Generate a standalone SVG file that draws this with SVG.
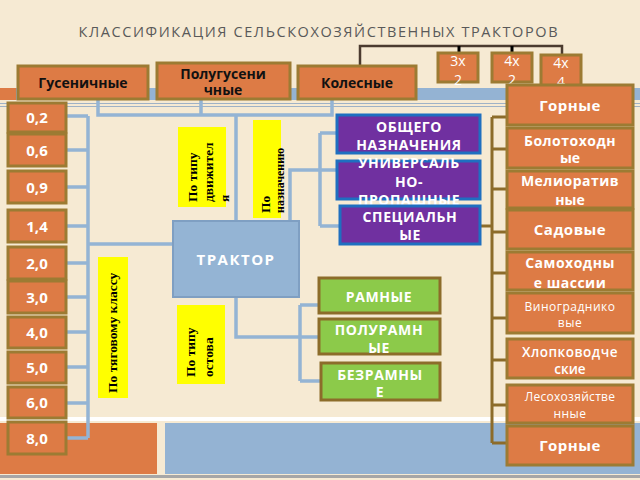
<svg xmlns="http://www.w3.org/2000/svg" width="640" height="480" viewBox="0 0 640 480">
<style>
.o{fill:#dd7b45;stroke:#9c7b33;stroke-width:3}
.p{fill:#7030a0;stroke:#1f6fc0;stroke-width:3}
.g{fill:#8cca4a;stroke:#8c6c2a;stroke-width:3}
.y{fill:#ffff00}
.cb{fill:none;stroke:#94b4d4;stroke-width:3.5}
.cr{fill:none;stroke:#8c6c2a;stroke-width:3}
.w{fill:#ffffff;font-family:"Open Sans","DejaVu Sans",sans-serif;font-weight:700;text-anchor:middle}
.k{fill:#111111;font-family:"Open Sans","DejaVu Sans",sans-serif;font-weight:700;text-anchor:middle;font-size:14px}
.n{font-size:15px}
.s{font-size:14px;letter-spacing:0.6px}
.r{font-weight:400}
.v{fill:#000;font-family:"Liberation Serif","Times New Roman",serif;font-weight:700;font-size:13.5px}
</style>
<rect x="0" y="0" width="640" height="480" fill="#f6ead3"/>
<!-- background bands -->
<rect x="0" y="88" width="16" height="12" fill="#dd7b45"/>
<rect x="16" y="88" width="624" height="12" fill="#94b3d3"/>
<line x1="0" y1="103.5" x2="640" y2="103.5" stroke="#9fb2c6" stroke-width="1"/>
<line x1="0" y1="106.5" x2="640" y2="106.5" stroke="#9fb2c6" stroke-width="1"/>
<rect x="0" y="417" width="640" height="4" fill="#ffffff"/>
<rect x="0" y="423" width="157" height="51" fill="#dd7b45"/>
<rect x="165" y="423" width="475" height="51" fill="#94b3d3"/>
<rect x="0" y="475" width="640" height="3" fill="#a6a6a6"/>

<text x="318" y="37" textLength="479" lengthAdjust="spacing" style="fill:#595959;font-family:'Open Sans','DejaVu Sans',sans-serif;font-size:14.5px;text-anchor:middle">КЛАССИФИКАЦИЯ СЕЛЬСКОХОЗЯЙСТВЕННЫХ ТРАКТОРОВ</text>

<g id="connectors">
  <path d="M360,66 V46 H562 V56" fill="none" stroke="#4b3b2f" stroke-width="2.5"/>
  <path d="M459,46 V54 M512,46 V54" fill="none" stroke="#000" stroke-width="3"/>
  <!-- top blue -->
  <path class="cb" d="M98,99 V115 H332 V99 M201,99 V115 M236,115 V221"/>
  <!-- left numbers -->
  <path class="cb" d="M88,116 V438 M66,116 H88 M66,150 H88 M66,187 H88 M66,226 H88 M66,263 H88 M66,297 H88 M66,332 H88 M66,367 H88 M66,403 H88 M66,438 H88 M88,244 H173"/>
  <!-- purple -->
  <path class="cb" d="M290,221 V170 H337 M320,133 V226 M320,133 H337 M320,226 H340"/>
  <!-- green -->
  <path class="cb" d="M236,297 V337 H319 M300,305 V381 M300,305 H319 M300,381 H321"/>
  <!-- right brown -->
  <path class="cr" d="M480,226 H492 M492,117 V443 M492,117 H507 M492,149 H507 M492,189 H507 M492,232 H507 M492,273 H507 M492,318 H507 M492,360 H507 M492,405 H507 M492,443 H507"/>
</g>

<g id="n3x2"><rect class="o" x="438" y="53" width="40" height="29"/><text class="w r" x="458" y="66" style="font-size:14px">3x</text><text class="w r" x="458" y="85" style="font-size:14px">2</text></g>
<g id="n4x2"><rect class="o" x="492" y="53" width="40" height="29"/><text class="w r" x="512" y="66" style="font-size:14px">4x</text><text class="w r" x="512" y="85" style="font-size:14px">2</text></g>
<g id="n4x4"><rect class="o" x="541" y="55" width="40" height="31"/><text class="w r" x="561" y="68" style="font-size:14px">4x</text><text class="w r" x="561" y="87" style="font-size:14px">4</text></g>

<g id="gus"><rect class="o" x="18" y="66" width="130" height="33"/><text class="k" x="83" y="88">Гусеничные</text></g>
<g id="polugus"><rect class="o" x="157" y="63" width="133" height="36"/><text class="k" x="223" y="79">Полугусени</text><text class="k" x="223" y="95">чные</text></g>
<g id="koles"><rect class="o" x="298" y="66" width="118" height="33"/><text class="k" x="357" y="88">Колесные</text></g>

<g id="nums">
<g id="n02"><rect class="o" x="8" y="103" width="58" height="29"/><text class="w n" x="37" y="123">0,2</text></g>
<g id="n06"><rect class="o" x="8" y="134" width="58" height="32"/><text class="w n" x="37" y="155.5">0,6</text></g>
<g id="n09"><rect class="o" x="8" y="171" width="58" height="32"/><text class="w n" x="37" y="192.5">0,9</text></g>
<g id="n14"><rect class="o" x="8" y="210" width="58" height="32"/><text class="w n" x="37" y="231.5">1,4</text></g>
<g id="n20"><rect class="o" x="8" y="247" width="58" height="32"/><text class="w n" x="37" y="268.5">2,0</text></g>
<g id="n30"><rect class="o" x="8" y="281" width="58" height="32"/><text class="w n" x="37" y="302.5">3,0</text></g>
<g id="n40"><rect class="o" x="8" y="317" width="58" height="31"/><text class="w n" x="37" y="338">4,0</text></g>
<g id="n50"><rect class="o" x="8" y="352" width="58" height="31"/><text class="w n" x="37" y="373">5,0</text></g>
<g id="n60"><rect class="o" x="8" y="387" width="58" height="31"/><text class="w n" x="37" y="408">6,0</text></g>
<g id="n80"><rect class="o" x="8" y="422" width="58" height="32"/><text class="w n" x="37" y="443.5">8,0</text></g>
</g>

<g id="traktor"><rect x="173" y="221" width="126" height="76" fill="#94b4d4" stroke="#7f9fc2" stroke-width="2"/><text class="w" x="236" y="264.5" style="font-size:15px;letter-spacing:1.5px">ТРАКТОР</text></g>

<g id="y1"><rect class="y" x="178" y="127" width="48" height="80"/><text class="v" transform="translate(197,202) rotate(-90)"><tspan x="0" y="0">По типу</tspan><tspan x="0" y="16">движител</tspan><tspan x="0" y="32">я</tspan></text></g>
<g id="y2"><rect class="y" x="253" y="120" width="28" height="98"/><text class="v" transform="translate(270,213) rotate(-90)"><tspan x="0" y="0">По</tspan><tspan x="0" y="14" style="font-size:12px">назначению</tspan></text></g>
<g id="y3"><rect class="y" x="98" y="257" width="30" height="141"/><text class="v" transform="translate(117,393) rotate(-90)">По тяговому классу</text></g>
<g id="y4"><rect class="y" x="177" y="305" width="48" height="79"/><text class="v" transform="translate(195,377) rotate(-90)"><tspan x="0" y="0">По типу</tspan><tspan x="0" y="18">остова</tspan></text></g>

<g id="obsh"><rect class="p" x="337" y="115" width="143" height="38"/><text class="w s" x="409" y="132">ОБЩЕГО</text><text class="w s" x="409" y="150">НАЗНАЧЕНИЯ</text></g>
<g id="univ"><rect class="p" x="337" y="161" width="143" height="38"/><text class="w s" x="409" y="168">УНИВЕРСАЛЬ</text><text class="w s" x="409" y="187">НО-</text><text class="w s" x="409" y="205">ПРОПАШНЫЕ</text></g>
<g id="spec"><rect class="p" x="340" y="206" width="140" height="38"/><text class="w s" x="410" y="222">СПЕЦИАЛЬН</text><text class="w s" x="410" y="240">ЫЕ</text></g>

<g id="ram"><rect class="g" x="319" y="278" width="121" height="35"/><text class="w s" x="379" y="302">РАМНЫЕ</text></g>
<g id="poluram"><rect class="g" x="319" y="319" width="121" height="35"/><text class="w s" x="379" y="335">ПОЛУРАМН</text><text class="w s" x="379" y="353">ЫЕ</text></g>
<g id="bezram"><rect class="g" x="321" y="363" width="119" height="37"/><text class="w s" x="380" y="380">БЕЗРАМНЫ</text><text class="w s" x="380" y="397">Е</text></g>

<g id="gorn1"><rect class="o" x="507" y="85" width="126" height="40"/><text class="w" x="570" y="111" style="font-size:15px;letter-spacing:0.5px">Горные</text></g>
<g id="bolot"><rect class="o" x="507" y="128" width="126" height="40"/><text class="w" x="570" y="146" style="font-size:14px;letter-spacing:0.5px">Болотоходн</text><text class="w" x="570" y="163" style="font-size:14px">ые</text></g>
<g id="melior"><rect class="o" x="507" y="171" width="126" height="37"/><text class="w" x="570" y="186" style="font-size:14px;letter-spacing:0.5px">Мелиоратив</text><text class="w" x="570" y="205" style="font-size:14px">ные</text></g>
<g id="sad"><rect class="o" x="507" y="210" width="126" height="39"/><text class="w" x="570" y="235" style="font-size:15px;letter-spacing:0.5px">Садовые</text></g>
<g id="samoh"><rect class="o" x="507" y="252" width="126" height="38"/><text class="w" x="570" y="268" style="font-size:14px;letter-spacing:0.5px">Самоходны</text><text class="w" x="570" y="288" style="font-size:14px;letter-spacing:0.5px">е шассии</text></g>
<g id="vinog"><rect class="o" x="507" y="293" width="126" height="40"/><text class="w r" x="570" y="311" style="font-size:12px;letter-spacing:0.5px">Виноградникo</text><text class="w r" x="570" y="327" style="font-size:12px;letter-spacing:0.5px">вые</text></g>
<g id="hlop"><rect class="o" x="507" y="339" width="126" height="39"/><text class="w" x="570" y="357" style="font-size:13.5px;font-weight:600;letter-spacing:0.5px">Хлопководче</text><text class="w" x="570" y="374" style="font-size:13.5px;font-weight:600">ские</text></g>
<g id="les"><rect class="o" x="507" y="385" width="126" height="38"/><text class="w r" x="570" y="401" style="font-size:12px;letter-spacing:0.3px">Лесохозяйстве</text><text class="w r" x="570" y="418" style="font-size:12px;letter-spacing:0.5px">нные</text></g>
<g id="gorn2"><rect class="o" x="507" y="426" width="126" height="39"/><text class="w" x="570" y="451" style="font-size:15px;letter-spacing:0.5px">Горные</text></g>
</svg>
